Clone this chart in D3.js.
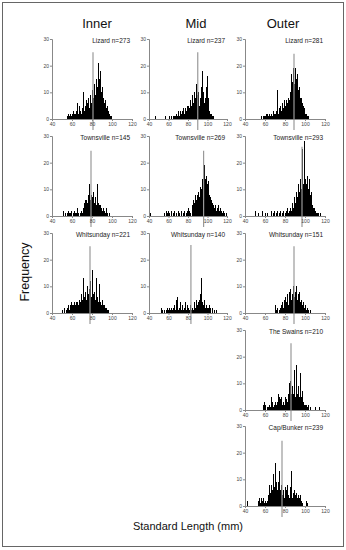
<!DOCTYPE html>
<html><head><meta charset="utf-8">
<script src="https://cdn.jsdelivr.net/npm/d3@7"></script>
<style>body{margin:0;background:#fff}svg{display:block;font-family:"Liberation Sans",Arial,sans-serif}</style>
</head><body><svg id="c" width="346" height="550"></svg>
<script>
const columns = ["Inner", "Mid", "Outer"];
const xTicks = [40, 60, 80, 100, 120];
const yTicks = [0, 10, 20, 30];

// [standard length (mm), frequency]
const innerLizard = [[55,1],[56,2],[57,1],[58,2],[59,1],[60,2],[61,3],[62,2],[63,2],[64,3],[65,6],[66,2],[67,5],[68,3],[69,2],[70,4],[71,10],[72,3],[73,5],[74,7],[75,6],[76,8],[77,4],[78,9],[79,6],[80,11],[81,8],[82,13],[83,9],[84,15],[85,12],[86,21],[87,15],[88,18],[89,10],[90,12],[91,8],[92,6],[93,7],[94,4],[95,5],[96,3],[97,2],[98,1],[99,1]];
const midLizard = [[46,1],[56,1],[60,1],[63,1],[65,1],[66,1],[67,1],[68,2],[69,1],[70,3],[71,1],[72,3],[73,2],[74,3],[75,4],[76,2],[77,4],[78,3],[79,5],[80,5],[81,4],[82,7],[83,5],[84,9],[85,6],[86,10],[87,8],[88,13],[89,9],[90,10],[91,5],[92,8],[93,12],[94,18],[95,10],[96,6],[97,8],[98,12],[99,16],[100,8],[101,4],[102,3],[103,2],[104,2],[105,1],[106,1]];
const outerLizard = [[56,1],[58,1],[59,1],[60,1],[61,2],[62,2],[63,1],[64,2],[65,1],[66,2],[67,1],[68,3],[69,2],[70,2],[71,3],[72,11],[73,2],[74,4],[75,5],[76,3],[77,6],[78,4],[79,7],[80,5],[81,7],[82,6],[83,8],[84,7],[85,10],[86,17],[87,14],[88,19],[89,13],[90,19],[91,15],[92,17],[93,11],[94,12],[95,8],[96,8],[97,6],[98,5],[99,4],[100,2],[101,2],[102,1],[103,1]];
const innerTownsville = [[51,2],[53,1],[55,1],[56,2],[57,1],[58,1],[59,2],[61,1],[62,2],[63,1],[64,1],[65,3],[66,1],[68,1],[69,2],[70,1],[71,3],[72,5],[73,6],[74,6],[75,5],[76,8],[77,12],[78,6],[79,8],[80,7],[81,9],[82,5],[83,7],[84,4],[85,12],[86,5],[87,4],[88,4],[89,3],[90,2],[91,3],[92,2],[93,1],[94,3],[95,1],[97,1]];
const midTownsville = [[41,1],[55,1],[57,2],[58,1],[59,2],[61,1],[63,2],[65,1],[66,2],[68,1],[70,2],[71,1],[73,2],[75,1],[76,2],[78,1],[79,2],[80,3],[81,2],[82,1],[84,4],[85,6],[86,5],[87,8],[88,6],[89,8],[90,9],[91,7],[92,11],[93,10],[94,14],[95,17],[96,19],[97,14],[98,15],[99,12],[100,13],[101,9],[102,8],[103,7],[104,6],[105,5],[106,4],[107,3],[108,4],[109,2],[110,3],[111,4],[112,2],[113,3],[114,2],[115,1],[116,2],[117,1],[119,1]];
const outerTownsville = [[50,2],[53,1],[57,2],[60,1],[62,1],[66,2],[68,1],[69,2],[71,1],[72,2],[74,1],[75,2],[77,1],[78,2],[80,1],[81,2],[82,3],[83,1],[84,2],[85,3],[86,2],[87,5],[88,3],[89,7],[90,5],[91,9],[92,7],[93,12],[94,9],[95,14],[96,10],[97,25],[98,12],[99,28],[100,14],[101,12],[102,15],[103,10],[104,14],[105,8],[106,9],[107,4],[108,3],[109,3],[110,2],[111,1],[112,1],[113,1],[115,1]];
const innerWhitsunday = [[50,1],[52,2],[54,1],[55,2],[56,3],[57,1],[58,3],[59,4],[60,3],[61,3],[62,4],[63,3],[64,4],[65,4],[66,3],[67,5],[68,4],[69,7],[70,5],[71,13],[72,6],[73,8],[74,5],[75,10],[76,7],[77,9],[78,12],[79,6],[80,16],[81,7],[82,8],[83,5],[84,13],[85,6],[86,4],[87,11],[88,4],[89,3],[90,5],[91,3],[92,3],[93,2],[94,2],[95,1],[96,1]];
const midWhitsunday = [[52,2],[53,1],[55,1],[57,1],[58,2],[59,1],[60,2],[61,1],[62,1],[63,2],[64,1],[65,2],[66,3],[67,1],[68,5],[69,6],[70,1],[71,2],[72,4],[73,1],[74,3],[75,1],[76,2],[77,4],[78,1],[79,3],[80,2],[81,1],[82,3],[83,1],[84,2],[85,1],[86,4],[87,2],[88,5],[89,3],[90,4],[91,5],[92,7],[93,13],[94,4],[95,3],[96,5],[97,2],[98,3],[99,2],[100,2],[101,1],[102,3],[103,2],[105,2],[107,1],[109,1]];
const outerWhitsunday = [[70,3],[71,1],[72,2],[74,1],[75,2],[76,3],[77,4],[78,2],[79,5],[80,6],[81,4],[82,7],[83,3],[84,8],[85,9],[86,5],[87,7],[88,10],[89,6],[90,8],[91,10],[92,5],[93,7],[94,8],[95,4],[96,5],[97,3],[98,4],[99,2],[100,3],[101,1],[102,2],[103,1],[105,1]];
const outerSwains = [[58,2],[59,3],[60,2],[62,1],[63,1],[64,2],[65,1],[66,5],[67,3],[68,1],[69,2],[70,3],[71,2],[72,3],[73,6],[74,5],[75,4],[76,5],[77,2],[78,3],[79,2],[80,5],[81,4],[82,3],[83,6],[84,10],[85,11],[86,6],[87,9],[88,6],[89,15],[90,5],[91,17],[92,6],[93,9],[94,5],[95,14],[96,5],[97,7],[98,3],[99,2],[100,2],[101,2],[102,1],[103,2],[105,1],[110,1],[114,1]];
const outerCapBunker = [[42,2],[53,2],[54,3],[55,1],[56,3],[57,2],[58,3],[59,1],[60,2],[61,1],[62,2],[63,4],[64,8],[65,5],[66,8],[67,6],[68,12],[69,7],[70,16],[71,9],[72,6],[73,9],[74,13],[75,6],[76,8],[77,4],[78,6],[79,3],[80,7],[81,6],[82,8],[83,4],[84,3],[85,7],[86,13],[87,3],[88,5],[89,6],[90,4],[91,5],[92,3],[93,4],[94,3],[95,4],[96,2],[97,1],[101,2],[102,1]];

const panelNames = ["Lizard n=273","Lizard n=237","Lizard n=281","Townsville n=145","Townsville n=269","Townsville n=293","Whitsunday n=221","Whitsunday n=140","Whitsunday n=151","The Swains n=210","Cap/Bunker n=239"];
const panelSeries = [innerLizard, midLizard, outerLizard, innerTownsville, midTownsville, outerTownsville, innerWhitsunday, midWhitsunday, outerWhitsunday, outerSwains, outerCapBunker];
const markerValues = [81, 90, 89, 79, 96, 97, 78, 83, 89, 86, 77];
const markerTop = [25, 25, 24.5, 24.5, 24.5, 26, 25, 25.5, 25, 25, 24.5];
const panelCol = [0,1,2,0,1,2,0,1,2,2,2];
const panelRow = [0,0,0,1,1,1,2,2,2,3,4];

// layout
const colRange = [[52,132],[149,227],[245,325]];
const rowBase = [119,216,313,410,506];
const panelH = 80;
const titleX = [97,196,283];

const svg = d3.select("#c");
svg.append("rect").attr("x",2.5).attr("y",2.5).attr("width",341).attr("height",544)
  .attr("fill","none").attr("stroke","#666").attr("stroke-width",1);

columns.forEach((c,i)=>{
  svg.append("text").attr("x",titleX[i]).attr("y",28).attr("text-anchor","middle")
    .attr("font-size",13).attr("fill","#111").text(c);
});

svg.append("text").attr("transform","translate(29,272) rotate(-90)").attr("text-anchor","middle")
  .attr("font-size",12.5).attr("fill","#111").text("Frequency");
svg.append("text").attr("x",188).attr("y",530).attr("text-anchor","middle")
  .attr("font-size",11).attr("fill","#111").text("Standard Length (mm)");

panelSeries.forEach((series,i)=>{
  const [x0,x1] = colRange[panelCol[i]];
  const yb = rowBase[panelRow[i]];
  const x = d3.scaleLinear().domain([40,120]).range([x0,x1]);
  const y = d3.scaleLinear().domain([0,30]).range([yb, yb-panelH]);
  const g = svg.append("g");

  g.selectAll("rect.bar").data(series).enter().append("rect")
    .attr("x",d=>Math.round(x(d[0]))).attr("width",d=>Math.max(1,Math.round(x(d[0]+1))-Math.round(x(d[0]))))
    .attr("y",d=>y(d[1])).attr("height",d=>yb-y(d[1])).attr("fill","#000")
    .attr("shape-rendering","crispEdges");

  g.append("line").attr("x1",x(markerValues[i])).attr("x2",x(markerValues[i]))
    .attr("y1",y(markerTop[i])).attr("y2",yb+11).attr("stroke","#999").attr("stroke-width",1.2);

  const ax = g.append("g").attr("transform",`translate(0,${yb})`)
    .call(d3.axisBottom(x).tickValues(xTicks).tickSize(2).tickPadding(1));
  const ay = g.append("g").attr("transform",`translate(${x0},0)`)
    .call(d3.axisLeft(y).tickValues(yTicks).tickSize(2).tickPadding(1));
  [ax,ay].forEach(a=>{
    a.select(".domain").attr("stroke","#888");
    a.selectAll(".tick line").attr("stroke","#888");
    a.selectAll("text").attr("font-size",5).attr("fill","#444").attr("font-family","Liberation Sans, Arial, sans-serif");
  });

  g.append("text").attr("x",x1-2).attr("y",y(30)+4).attr("text-anchor","end")
    .attr("font-size",6.5).attr("fill","#222").text(panelNames[i]);
});
</script></body></html>
